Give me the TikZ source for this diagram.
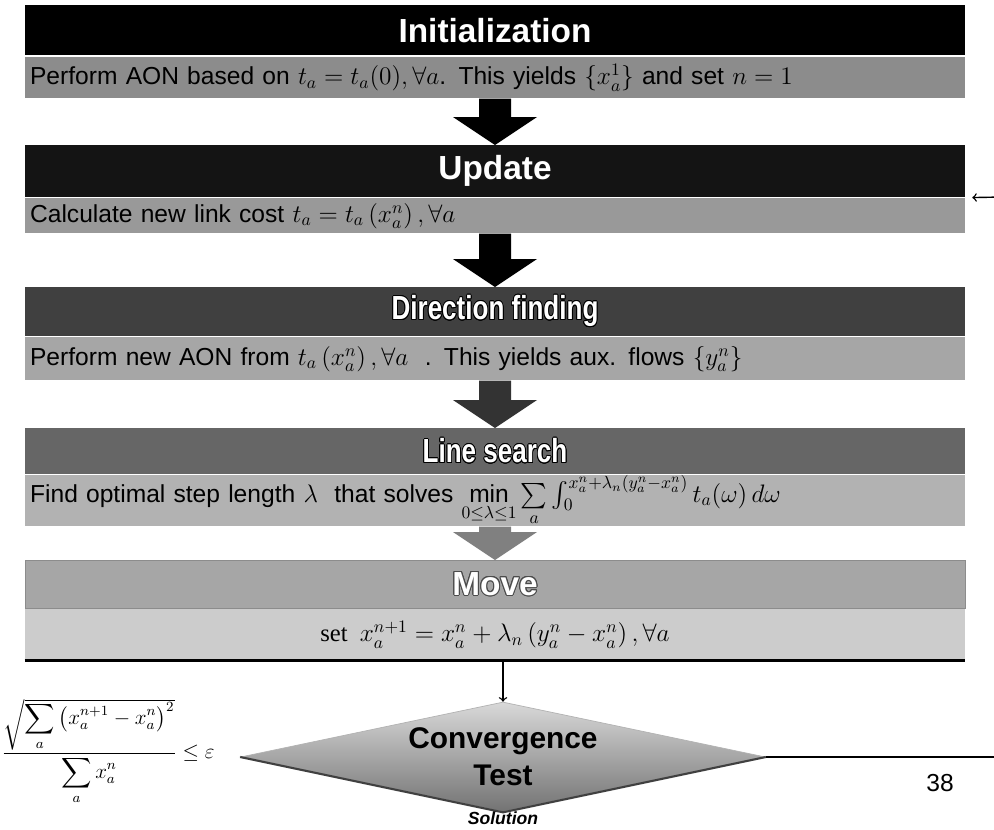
\documentclass[tikz,border=0pt]{standalone}
\usepackage{fontspec}
\setmainfont{Liberation Sans}
\newfontfamily\serifnum{Liberation Serif}
\usepackage{amsmath}
\usepackage{graphicx}
\usepackage[copies]{contour}
\usetikzlibrary{calc,shapes.geometric}

\tikzset{
  header/.style={anchor=north, minimum width=18.8cm, minimum height=1cm, inner sep=0pt,
    text=white, font=\fontsize{19}{22}\selectfont\bfseries},
  subbase/.style={anchor=north, minimum width=18.8cm, inner sep=0pt, font=\fontsize{14}{16}\selectfont},
  subbar/.style={subbase, text width=18.6cm, align=left},
  decision/.style={diamond, aspect=4.8, inner sep=0pt, minimum width=10.5cm, minimum height=2.2cm,
    top color=black!15, bottom color=black!55, draw=black!30,
    font=\fontsize{17}{18}\selectfont\bfseries, align=center},
}
\contourlength{0.6pt}
\newcommand{\narrowhead}[1]{\scalebox{0.78}[1]{\contour{black}{#1}}}
\newcommand{\flowarrow}[3]{%
  \fill[#3] ($(#1.south)+(-16,0)$) -- ($(#1.south)+(16,0)$) -- ($(#2.north)+(16,-28)$)
    -- ($(#2.north)+(42,-28)$) -- (#2.north) -- ($(#2.north)+(-42,-28)$)
    -- ($(#2.north)+(-16,-28)$) -- cycle;}

\begin{document}
\begin{tikzpicture}[x=0.02cm,y=-0.02cm]
  \useasboundingbox[fill=white] (0,0) rectangle (994,829);
  % steps
  \node[header, fill=black] (init) at (495,5) {Initialization};
  \node[subbar, fill=black!45, minimum height=41*0.02cm] (initsub) at (495,57)
    {Perform AON based on $t_a=t_a(0),\forall a$. This yields $\{x_a^1\}$ and set $n=1$};
  \node[header, fill=black!92, minimum height=52*0.02cm] (update) at (495,145) {Update};
  \node[subbar, fill=black!40, minimum height=35*0.02cm] (updatesub) at (495,198)
    {Calculate new link cost $t_a=t_a\left(x_a^n\right),\forall a$};
  \node[header, fill=black!75, minimum height=49*0.02cm] (direction) at (495,287) {\narrowhead{Direction finding}};
  \node[subbar, fill=black!35, minimum height=43*0.02cm] (directionsub) at (495,337)
    {Perform new AON from $t_a\left(x_a^n\right),\forall a$ \ . This yields aux. flows $\left\{y_a^n\right\}$};
  \node[header, fill=black!60, minimum height=46*0.02cm] (linesearch) at (495,428) {\narrowhead{Line search}};
  \node[subbar, fill=black!30, minimum height=40*0.02cm] (linesearchsub) at (495,475)
    {Find optimal step length $\lambda$ \ that solves
     $\min\limits_{0\le\lambda\le1}\sum\limits_a\int_0^{x_a^n+\lambda_n\left(y_a^n-x_a^n\right)} t_a(\omega)\,d\omega$};
  \node[header, fill=black!35, draw=black!45, minimum height=48*0.02cm] (move) at (495,560) {\contour{black!70}{Move}};
  \node[subbase, fill=black!20, minimum height=51*0.02cm] (movesub) at (495,609)
    {\serifnum set \ $x_a^{n+1}=x_a^n+\lambda_n\left(y_a^n-x_a^n\right),\forall a$};
  \draw[line width=1.5pt] (movesub.south west) -- (movesub.south east);
  % block arrows
  \flowarrow{initsub}{update}{black}
  \flowarrow{updatesub}{direction}{black}
  \flowarrow{directionsub}{linesearch}{black!80}
  \flowarrow{linesearchsub}{move}{black!50}
  % convergence test
  \node[decision] (conv) at (503,757) {Convergence\\[3pt]Test};
  \draw[black!75, line width=1.2pt] (conv.west) -- (conv.south) -- (conv.east);
  \node[font=\fontsize{10}{12}\selectfont\bfseries\itshape] (solution) at (503,818) {Solution};
  \node[font=\fontsize{12}{14}\selectfont] (criterion) at (108,752)
    {$\dfrac{\sqrt{\displaystyle\sum_a\left(x_a^{n+1}-x_a^n\right)^2}}{\displaystyle\sum_a x_a^n}\le\varepsilon$};
  \node[font=\fontsize{14}{16}\selectfont] (pagenum) at (940,783) {38};
  \coordinate (exit) at (1000,757);
  \coordinate (feedback) at (1002,197);
  \draw[->, thick] (movesub.south -| conv.north) -- (conv.north);
  \draw[->, thick] (conv.east) -- (exit);
  \draw[->, thick, shorten >=0.14cm] (feedback) -- (update.south east);
\end{tikzpicture}
\end{document}
